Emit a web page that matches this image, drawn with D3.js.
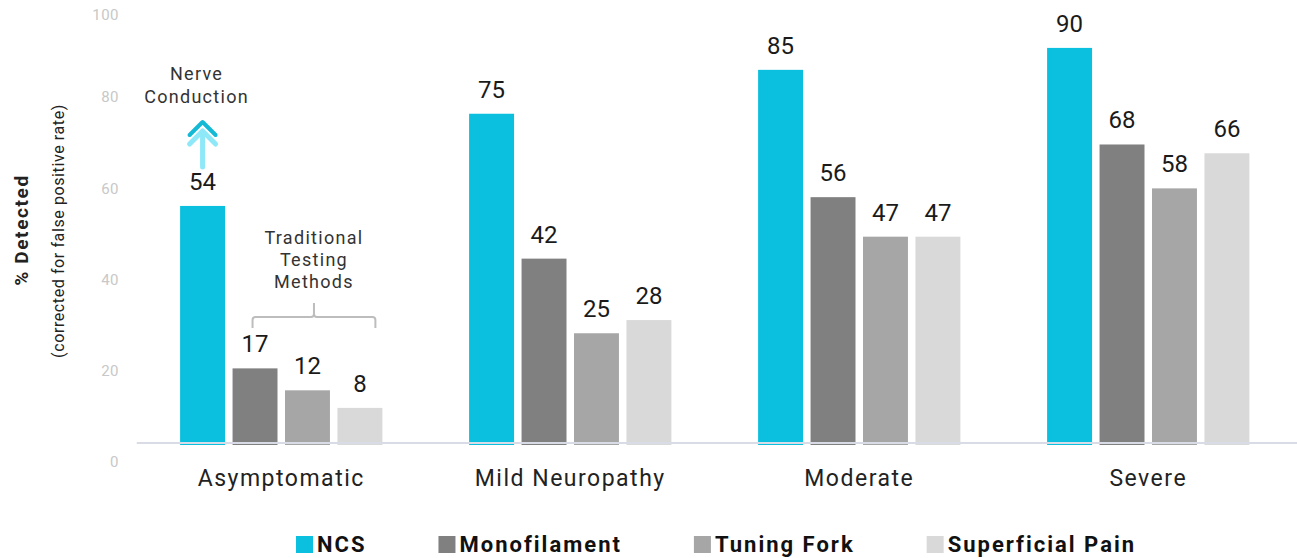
<!DOCTYPE html>
<html>
<head>
<meta charset="utf-8">
<script src="https://cdn.jsdelivr.net/npm/d3@7"></script>
<style>
  html, body { margin: 0; padding: 0; background: #fff; }
  svg { display: block; font-family: Roboto, "Noto Sans", sans-serif; }
</style>
</head>
<body>
<svg id="chart" width="1297" height="558"></svg>
<script>
// ---- data ----
const categories = ["Asymptomatic", "Mild Neuropathy", "Moderate", "Severe"];
const seriesNames = ["NCS", "Monofilament", "Tuning Fork", "Superficial Pain"];
const ncsValues = [54, 75, 85, 90];
const monofilamentValues = [17, 42, 56, 68];
const tuningForkValues = [12, 25, 47, 58];
const superficialPainValues = [8, 28, 47, 66];
const tickLabels = [0, 20, 40, 60, 80, 100];
const seriesColors = ["#0bc0df", "#808080", "#a6a6a6", "#d9d9d9"];

const valuesBySeries = [ncsValues, monofilamentValues, tuningForkValues, superficialPainValues];
const rows = categories.map((c, i) => ({
  category: c,
  values: seriesNames.map((s, j) => ({ series: s, value: valuesBySeries[j][i], color: seriesColors[j] }))
}));

const svg = d3.select("#chart");

// ---- scales ----
const x0 = d3.scaleBand().domain(categories).range([136.75, 1292.75]).paddingInner(0.3).paddingOuter(0.15);
const x1 = d3.scaleBand().domain(seriesNames).range([0, x0.bandwidth()]).paddingInner(0.143).paddingOuter(0);
const y = d3.scaleLinear().domain([0, 100]).range([443, 4]);
// decorative tick labels (as placed in the original, not aligned with the bars)
const yTicks = d3.scaleLinear().domain([0, 80, 100]).range([462, 97, 15]);

// ---- y axis tick labels ----
const yAxis = svg.append("g")
  .attr("transform", "translate(124,0)")
  .call(d3.axisLeft(yTicks).tickValues(tickLabels).tickSize(0).tickPadding(5));
yAxis.select(".domain").remove();
yAxis.selectAll("text")
  .attr("fill", "#c8c8c8")
  .style("font-size", "15px")
  .style("letter-spacing", "0.5px")
  .style("font-family", "Roboto, sans-serif");

// ---- y title ----
svg.append("text")
  .attr("transform", "translate(28,230) rotate(-90)")
  .attr("text-anchor", "middle")
  .attr("fill", "#222")
  .style("font-size", "19px")
  .style("letter-spacing", "1.6px")
  .style("font-weight", "bold")
  .text("% Detected");
svg.append("text")
  .attr("transform", "translate(64,231) rotate(-90)")
  .attr("text-anchor", "middle")
  .attr("fill", "#222")
  .style("font-size", "16px")
  .style("letter-spacing", "0.6px")
  .text("(corrected for false positive rate)");

// ---- bars ----
const groups = svg.append("g").selectAll("g")
  .data(rows).join("g")
  .attr("transform", d => `translate(${x0(d.category)},0)`);

groups.selectAll("rect")
  .data(d => d.values).join("rect")
  .attr("x", d => x1(d.series))
  .attr("width", x1.bandwidth())
  .attr("y", d => y(d.value))
  .attr("height", d => y(0) - y(d.value) + 2)
  .attr("fill", d => d.color);

groups.selectAll("text.val")
  .data(d => d.values).join("text")
  .attr("class", "val")
  .attr("x", d => x1(d.series) + x1.bandwidth() / 2)
  .attr("y", d => y(d.value) - 16)
  .attr("text-anchor", "middle")
  .attr("fill", "#1a1a1a")
  .style("font-size", "24px")
  .text(d => d.value);

// baseline
svg.append("line")
  .attr("x1", x0.range()[0]).attr("x2", 1297)
  .attr("y1", y(0)).attr("y2", y(0))
  .attr("stroke", "#d9dce6").attr("stroke-width", 2);

// category labels
svg.append("g").selectAll("text")
  .data(categories).join("text")
  .attr("x", d => x0(d) + x0.bandwidth() / 2)
  .attr("y", 486)
  .attr("text-anchor", "middle")
  .attr("fill", "#222")
  .style("font-size", "23px")
  .style("letter-spacing", "1.5px")
  .text(d => d);

// ---- annotations ----
const firstCat = categories[0];
const ncsCx = x0(firstCat) + x1(seriesNames[0]) + x1.bandwidth() / 2;
const ann1 = svg.append("text")
  .attr("text-anchor", "middle")
  .attr("fill", "#333")
  .style("font-size", "18px")
  .style("letter-spacing", "1.3px");
ann1.append("tspan").attr("x", ncsCx - 6).attr("y", 80).text("Nerve");
ann1.append("tspan").attr("x", ncsCx - 6).attr("y", 103).text("Conduction");

// arrows
svg.append("path")
  .attr("d", `M${ncsCx - 13},135 L${ncsCx},122 L${ncsCx + 13},135`)
  .attr("fill", "none").attr("stroke", "#14b9d6").attr("stroke-width", 4)
  .attr("stroke-linecap", "round").attr("stroke-linejoin", "round");
svg.append("path")
  .attr("d", `M${ncsCx - 13},144 L${ncsCx},131 L${ncsCx + 13},144 M${ncsCx},132 L${ncsCx},167`)
  .attr("fill", "none").attr("stroke", "#8fe8f8").attr("stroke-width", 5)
  .attr("stroke-linecap", "round").attr("stroke-linejoin", "round");

// traditional bracket
const bL = x0(firstCat) + x1(seriesNames[1]) + 20;
const bR = x0(firstCat) + x1(seriesNames[3]) + x1.bandwidth() - 7;
const bC = (bL + bR) / 2;
const ann2 = svg.append("text")
  .attr("text-anchor", "middle")
  .attr("fill", "#333")
  .style("font-size", "18px")
  .style("letter-spacing", "1.3px");
["Traditional", "Testing", "Methods"].forEach((t, i) =>
  ann2.append("tspan").attr("x", bC).attr("y", 244 + i * 22).text(t));

svg.append("path")
  .attr("d", `M${bL},328 L${bL},320 Q${bL},317 ${bL + 3},317 L${bC - 3},317 Q${bC},317 ${bC},314 L${bC},303 M${bC},314 Q${bC},317 ${bC + 3},317 L${bR - 3},317 Q${bR},317 ${bR},320 L${bR},328`)
  .attr("fill", "none").attr("stroke", "#bdbdbd").attr("stroke-width", 2);

// ---- legend ----
const legend = svg.append("g");
let lx = 296;
seriesNames.forEach((s, i) => {
  legend.append("rect")
    .attr("x", lx).attr("y", 536).attr("width", 17).attr("height", 17)
    .attr("fill", seriesColors[i]);
  const t = legend.append("text")
    .attr("x", lx + 21).attr("y", 552)
    .attr("fill", "#111")
    .style("font-size", "22px")
    .style("letter-spacing", "2px")
    .style("font-weight", "bold")
    .text(s);
  lx = lx + 21 + t.node().getBBox().width + 72;
});
</script>
</body>
</html>
